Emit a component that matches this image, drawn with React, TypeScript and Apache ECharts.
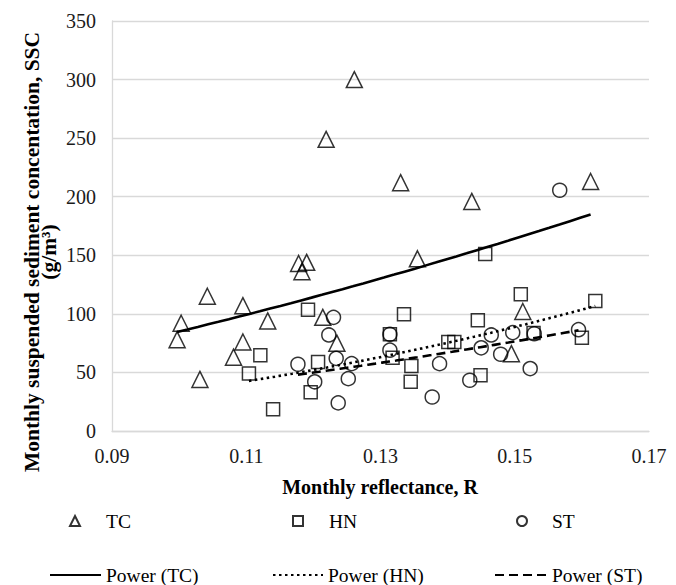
import React, { useEffect, useRef } from "react";
import * as echarts from "echarts";

const tcX = [0.1003, 0.0997, 0.1042, 0.1031, 0.1095, 0.1095, 0.1081, 0.1132, 0.1178, 0.119, 0.1183, 0.1214, 0.1235, 0.1261, 0.1219, 0.133, 0.1436, 0.1613, 0.1355, 0.1512, 0.1495];
const tcY = [92, 78, 115, 44, 107, 76, 63, 94, 143, 144, 136, 97, 75, 300, 249, 212, 196, 213, 147, 102, 66];
const hnX = [0.1104, 0.1121, 0.114, 0.1192, 0.1207, 0.1196, 0.1456, 0.1335, 0.1314, 0.1318, 0.1346, 0.1345, 0.1445, 0.1401, 0.141, 0.1449, 0.1509, 0.1528, 0.162, 0.16];
const hnY = [49, 64.6, 18.5, 103.6, 59, 33, 151, 99.6, 82.5, 62.6, 55.5, 42, 94.5, 76, 76, 47.5, 116.7, 83.7, 111, 79.7];
const stX = [0.1177, 0.1202, 0.123, 0.1223, 0.1234, 0.1237, 0.1257, 0.1252, 0.1314, 0.1314, 0.1388, 0.1377, 0.145, 0.1465, 0.1479, 0.1497, 0.1433, 0.1523, 0.1529, 0.1595, 0.1567];
const stY = [57, 42, 97, 82, 62, 24, 57.5, 44.7, 69, 82.5, 57.5, 29, 71, 82, 65.5, 84, 43.3, 53.3, 83, 86.5, 205.5];

const xTicks = [0.09, 0.11, 0.13, 0.15, 0.17];
const yTicks = [0, 50, 100, 150, 200, 250, 300, 350];
const seriesNames = ["TC", "HN", "ST"];
const trendNames = ["Power (TC)", "Power (HN)", "Power (ST)"];

const FONT = "Liberation Serif";

function powerFit(xs: number[], ys: number[]) {
  const lx = xs.map(Math.log);
  const ly = ys.map(Math.log);
  const n = xs.length;
  const mx = lx.reduce((a, b) => a + b, 0) / n;
  const my = ly.reduce((a, b) => a + b, 0) / n;
  let sxy = 0, sxx = 0;
  for (let i = 0; i < n; i++) {
    sxy += (lx[i] - mx) * (ly[i] - my);
    sxx += (lx[i] - mx) * (lx[i] - mx);
  }
  const b = sxy / sxx;
  const a = Math.exp(my - b * mx);
  const x0 = Math.min(...xs);
  const x1 = Math.max(...xs);
  const pts: number[][] = [];
  const steps = 40;
  for (let i = 0; i <= steps; i++) {
    const x = x0 + ((x1 - x0) * i) / steps;
    pts.push([x, a * Math.pow(x, b)]);
  }
  return pts;
}

const zip = (xs: number[], ys: number[]) => xs.map((x, i) => [x, ys[i]]);

export default function App() {
  const ref = useRef<HTMLDivElement>(null);
  useEffect(() => {
    if (!ref.current) return;
    const chart = echarts.init(ref.current, undefined, { renderer: "svg" });
    const markerStyle = { color: "rgba(255,255,255,0)", borderColor: "#000", borderWidth: 1.5 };
    const legendText = { fontFamily: FONT, fontSize: 19.5, color: "#000" };
    const lineLegendItem = { opacity: 0, borderWidth: 0 };
    const common = { padding: 0 };
    chart.setOption({
      animation: false,
      backgroundColor: "#fff",
      textStyle: { fontFamily: FONT },
      grid: { left: 112, right: 27, top: 21, bottom: 154, containLabel: false },
      xAxis: {
        type: "value",
        min: xTicks[0],
        max: xTicks[xTicks.length - 1],
        interval: 0.02,
        axisLine: { show: true, onZero: false, lineStyle: { color: "#d9d9d9", width: 1.3 } },
        axisTick: { show: false },
        splitLine: { show: false },
        axisLabel: { fontFamily: FONT, fontSize: 20, color: "#1a1a1a", margin: 15, formatter: (v: number) => v.toFixed(2) },
      },
      yAxis: {
        type: "value",
        min: yTicks[0],
        max: yTicks[yTicks.length - 1],
        interval: 50,
        axisLine: { show: true, lineStyle: { color: "#d9d9d9", width: 1.3 } },
        axisTick: { show: false },
        splitLine: { show: true, lineStyle: { color: "#d9d9d9", width: 1.3 } },
        axisLabel: { fontFamily: FONT, fontSize: 20, color: "#1a1a1a", margin: 16 },
      },
      legend: [
        { ...common, data: [seriesNames[0]], left: 69, top: 511, itemWidth: 10, itemHeight: 10, textStyle: { ...legendText, padding: [0, 0, 0, 21] } },
        { ...common, data: [seriesNames[1]], left: 292, top: 511, itemWidth: 10, itemHeight: 10, textStyle: { ...legendText, padding: [0, 0, 0, 21] } },
        { ...common, data: [seriesNames[2]], left: 516, top: 511, itemWidth: 10, itemHeight: 10, textStyle: { ...legendText, padding: [0, 0, 0, 20] } },
        { ...common, data: [trendNames[0]], left: 49, top: 565, itemWidth: 51, itemHeight: 1, itemStyle: lineLegendItem, textStyle: legendText },
        { ...common, data: [trendNames[1]], left: 272, top: 565, itemWidth: 50, itemHeight: 1, itemStyle: lineLegendItem, textStyle: legendText },
        { ...common, data: [trendNames[2]], left: 494, top: 565, itemWidth: 52, itemHeight: 1, itemStyle: lineLegendItem, textStyle: legendText },
      ],
      graphic: [
        {
          type: "text",
          x: 380,
          y: 487,
          style: { text: "Monthly reflectance, R", font: `bold 20px ${FONT}`, fill: "#000", align: "center", verticalAlign: "middle" },
        },
        {
          type: "text",
          x: 40,
          y: 252,
          rotation: Math.PI / 2,
          style: {
            text: "Monthly suspended sediment concentation, SSC\n(g/m³)",
            font: `bold 21.5px ${FONT}`,
            fill: "#000",
            align: "center",
            verticalAlign: "middle",
            lineHeight: 17,
          },
        },
      ],
      series: [
        { name: seriesNames[0], type: "scatter", symbol: "triangle", symbolSize: 16, itemStyle: markerStyle, data: zip(tcX, tcY), z: 3 },
        { name: seriesNames[1], type: "scatter", symbol: "rect", symbolSize: 13, itemStyle: markerStyle, data: zip(hnX, hnY), z: 3 },
        { name: seriesNames[2], type: "scatter", symbol: "circle", symbolSize: 14, itemStyle: markerStyle, data: zip(stX, stY), z: 3 },
        {
          name: trendNames[0], type: "line", showSymbol: false, symbol: "none", data: powerFit(tcX, tcY),
          lineStyle: { color: "#000", width: 2.6, type: "solid" }, itemStyle: { color: "#000" }, z: 4,
        },
        {
          name: trendNames[1], type: "line", showSymbol: false, symbol: "none", data: powerFit(hnX, hnY),
          lineStyle: { color: "#000", width: 2.6, type: [2.5, 3.5] }, itemStyle: { color: "#000" }, z: 4,
        },
        {
          name: trendNames[2], type: "line", showSymbol: false, symbol: "none", data: powerFit(stX, stY),
          lineStyle: { color: "#000", width: 2.6, type: [9, 5] }, itemStyle: { color: "#000" }, z: 4,
        },
      ],
    });
    return () => chart.dispose();
  }, []);
  return <div ref={ref} style={{ position: "fixed", left: 0, top: 0, width: 676, height: 585 }} />;
}
